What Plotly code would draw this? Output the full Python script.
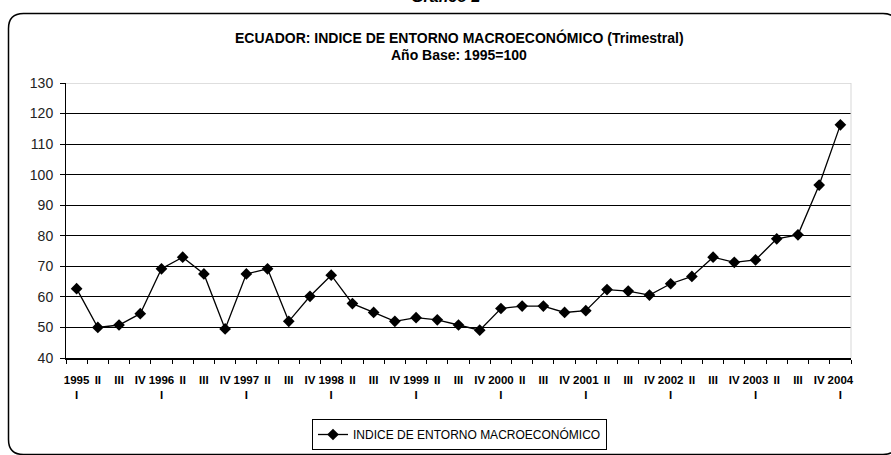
import plotly.graph_objects as go

years = ["1995", "1996", "1997", "1998", "1999", "2000", "2001", "2002", "2003", "2004"]
quarters = ["I", "II", "III", "IV"]
categories = []
tick_labels = []
for y in years:
    for q in quarters:
        if y == "2004" and q != "I":
            break
        categories.append(f"{y}-{q}")
        tick_labels.append(f"{y}<br>{q}" if q == "I" else q)

values = [62.7, 50.0, 50.8, 54.5, 69.2, 73.0, 67.5, 49.5, 67.5, 69.2,
          52.0, 60.2, 67.1, 57.8, 54.9, 52.0, 53.2, 52.5, 50.8, 49.1,
          56.2, 57.0, 57.0, 54.9, 55.5, 62.4, 61.9, 60.6, 64.3, 66.7,
          73.0, 71.3, 72.1, 79.0, 80.3, 96.6, 116.3]

y_ticks = [40, 50, 60, 70, 80, 90, 100, 110, 120, 130]

W, H = 891, 455
L, R, T, B = 66, 40, 83, 97
PW, PH = W - L - R, H - T - B

def px(x):
    return (x - L) / PW

def py(y):
    return (H - B - y) / PH

fig = go.Figure()
fig.add_trace(go.Scatter(
    x=categories, y=values, mode="lines+markers",
    name="INDICE DE ENTORNO MACROECONÓMICO",
    line=dict(color="black", width=1.3),
    marker=dict(symbol="diamond", size=9, color="black"),
))

# rounded frame
x0, x1, y0, y1, r = 8.5, 898, 13.5, 454.5, 15
path = (f"M {px(x0)},{py(y0 + r)} Q {px(x0)},{py(y0)} {px(x0 + r)},{py(y0)} "
        f"L {px(x1 - r)},{py(y0)} Q {px(x1)},{py(y0)} {px(x1)},{py(y0 + r)} "
        f"L {px(x1)},{py(y1 - r)} Q {px(x1)},{py(y1)} {px(x1 - r)},{py(y1)} "
        f"L {px(x0 + r)},{py(y1)} Q {px(x0)},{py(y1)} {px(x0)},{py(y1 - r)} Z")

shapes = [
    dict(type="path", xref="paper", yref="paper", path=path,
         line=dict(color="black", width=1.5), layer="below"),
    dict(type="line", xref="paper", yref="y", x0=0, x1=1, y0=130, y1=130,
         line=dict(color="rgb(190,190,190)", width=1.2), layer="above"),
    dict(type="line", xref="paper", yref="paper", x0=1, x1=1, y0=0, y1=1,
         line=dict(color="rgb(215,215,215)", width=1), layer="above"),
]

annotations = [
    dict(text="<b><i>Gráfico 2</i></b>", xref="paper", yref="paper",
         x=px(445), y=py(7), xanchor="center", yanchor="bottom",
         showarrow=False, font=dict(size=16, color="black")),
    dict(text="<b>ECUADOR: INDICE DE ENTORNO MACROECONÓMICO (Trimestral)</b>",
         xref="paper", yref="paper", x=px(459), y=py(37),
         xanchor="center", yanchor="middle", showarrow=False,
         font=dict(size=14, color="black")),
    dict(text="<b>Año Base: 1995=100</b>",
         xref="paper", yref="paper", x=px(459), y=py(55),
         xanchor="center", yanchor="middle", showarrow=False,
         font=dict(size=14, color="black")),
]

fig.update_layout(
    width=W, height=H,
    margin=dict(l=L, r=R, t=T, b=B, autoexpand=False),
    paper_bgcolor="white", plot_bgcolor="white",
    font=dict(family="Arial, 'Liberation Sans', sans-serif", color="black"),
    showlegend=True,
    legend=dict(x=px(312), y=py(419), xanchor="left", yanchor="top",
                bordercolor="black", borderwidth=1, bgcolor="white",
                font=dict(size=12, color="black"),
                itemwidth=30),
    shapes=shapes,
    annotations=annotations,
    xaxis=dict(
        type="category", categoryorder="array", categoryarray=categories,
        tickmode="array", tickvals=categories, ticktext=[f"<b>{t}</b>" for t in tick_labels],
        tickson="boundaries", ticks="outside", ticklen=4, tickcolor="black",
        showline=True, linecolor="black", linewidth=2,
        showgrid=False, tickangle=0,
        tickfont=dict(size=11.5, color="black"),
        ticklabelstandoff=10,
        range=[-0.5, len(categories) - 0.5],
    ),
    yaxis=dict(
        range=[40, 130], tickvals=y_ticks,
        ticks="outside", ticklen=5, tickcolor="black",
        showline=True, linecolor="black", linewidth=1,
        showgrid=True, gridcolor="black", gridwidth=1,
        zeroline=False,
        tickfont=dict(size=14, color="#222"),
        ticklabelstandoff=4,
    ),
)

fig.write_html("out.html", config={"displayModeBar": False},
               post_script="document.body.style.margin='0';")
